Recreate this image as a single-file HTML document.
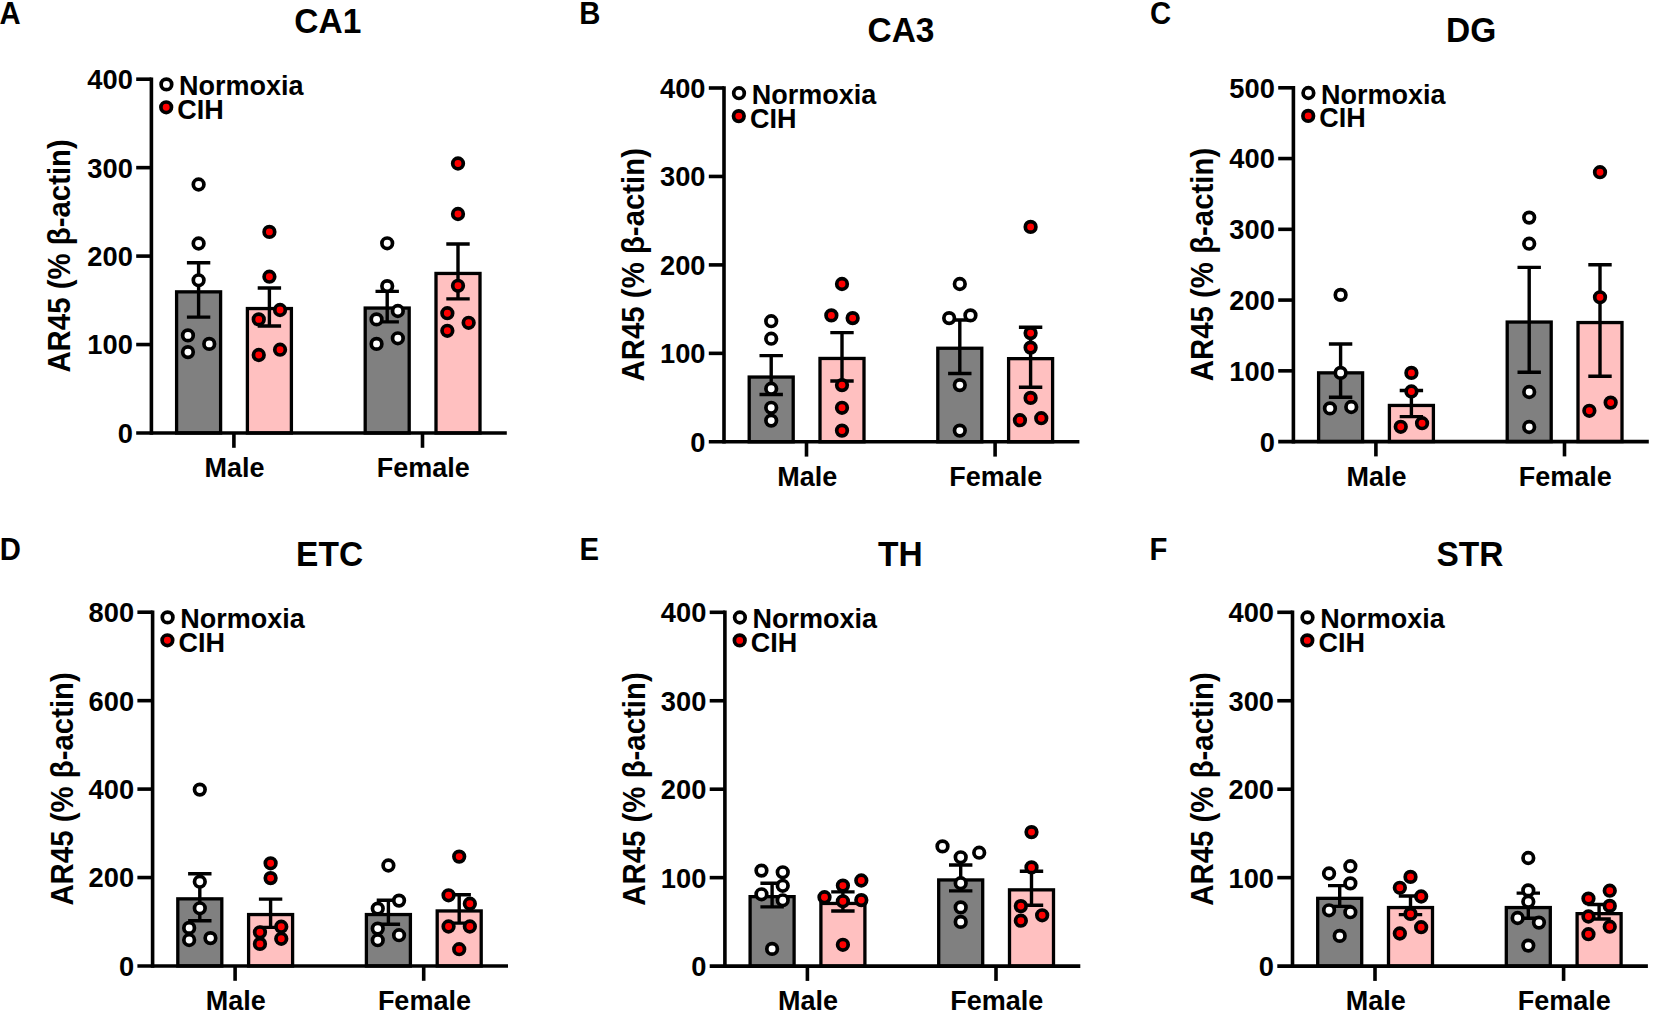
<!DOCTYPE html>
<html lang="en"><head><meta charset="utf-8"><title>AR45 expression by region</title>
<style>html,body{margin:0;padding:0;background:#fff}svg{display:block}text{font-family:"Liberation Sans", Arial, sans-serif;font-weight:bold;fill:#000}.t{font-size:27px}.tk{font-size:27.3px}.yl{font-size:29.4px}.ti{font-size:33.5px}.pl{font-size:29.3px}.ax{stroke:#000;stroke-width:3.6;fill:none}.er{stroke:#000;stroke-width:3.4;fill:none}.bg{fill:#808080;stroke:#000;stroke-width:3.3}.bp{fill:#ffc0c0;stroke:#000;stroke-width:3.3}.dn{fill:#fff;stroke:#000;stroke-width:3.7}.dc{fill:#ff0000;stroke:#000;stroke-width:3.7}</style></head><body>
<svg width="1654" height="1015" viewBox="0 0 1654 1015">
<rect width="1654" height="1015" fill="#fff"/>
<g id="panel-A">
<text class="pl" transform="translate(-0.6 24.2) scale(1 1.045)">A</text>
<text class="ti" transform="translate(327.8 33) scale(1 1.045)" text-anchor="middle">CA1</text>
<text class="yl" transform="translate(69.7 255.9) rotate(-90) scale(1 1.045)" text-anchor="middle">AR45 (% β-actin)</text>
<rect class="bg" x="176.6" y="291.85" width="44" height="141.15"/>
<rect class="bp" x="247.4" y="308.55" width="44" height="124.45"/>
<rect class="bg" x="365.2" y="308.05" width="44" height="124.95"/>
<rect class="bp" x="436" y="273.45" width="44" height="159.55"/>
<path class="ax" d="M151.4 77.4 V434.8"/>
<path class="ax" d="M136.2 433 H506.8"/>
<text class="tk" transform="translate(132.9 442.9) scale(1 1.045)" text-anchor="end">0</text>
<path class="ax" d="M136.2 344.55 H151.4"/>
<text class="tk" transform="translate(132.9 354.45) scale(1 1.045)" text-anchor="end">100</text>
<path class="ax" d="M136.2 256.1 H151.4"/>
<text class="tk" transform="translate(132.9 266) scale(1 1.045)" text-anchor="end">200</text>
<path class="ax" d="M136.2 167.65 H151.4"/>
<text class="tk" transform="translate(132.9 177.55) scale(1 1.045)" text-anchor="end">300</text>
<path class="ax" d="M136.2 79.2 H151.4"/>
<text class="tk" transform="translate(132.9 89.1) scale(1 1.045)" text-anchor="end">400</text>
<path class="ax" d="M233.9 433 V447.8"/>
<path class="ax" d="M422.5 433 V447.8"/>
<text class="t" transform="translate(234.6 476.9) scale(1 1.045)" text-anchor="middle">Male</text>
<text class="t" transform="translate(423.2 476.9) scale(1 1.045)" text-anchor="middle">Female</text>
<path class="er" d="M186.9 262.7 H210.3 M186.9 317.1 H210.3 M198.6 262.7 V317.1"/>
<path class="er" d="M257.7 288 H281.1 M257.7 326 H281.1 M269.4 288 V326"/>
<path class="er" d="M375.5 291.4 H398.9 M375.5 321.9 H398.9 M387.2 291.4 V321.9"/>
<path class="er" d="M446.3 244 H469.7 M446.3 298.9 H469.7 M458 244 V298.9"/>
<circle class="dn" cx="198.6" cy="184.5" r="5.3"/>
<circle class="dn" cx="198.6" cy="243.5" r="5.3"/>
<circle class="dn" cx="198.6" cy="280.3" r="5.3"/>
<circle class="dn" cx="187.95" cy="335.4" r="5.3"/>
<circle class="dn" cx="209.25" cy="343.9" r="5.3"/>
<circle class="dn" cx="187.95" cy="352.1" r="5.3"/>
<circle class="dc" cx="269.4" cy="231.9" r="5.3"/>
<circle class="dc" cx="269.4" cy="276.7" r="5.3"/>
<circle class="dc" cx="280.05" cy="310" r="5.3"/>
<circle class="dc" cx="258.75" cy="319.4" r="5.3"/>
<circle class="dc" cx="280.05" cy="349.7" r="5.3"/>
<circle class="dc" cx="258.75" cy="355" r="5.3"/>
<circle class="dn" cx="387.2" cy="243.3" r="5.3"/>
<circle class="dn" cx="387.2" cy="286.1" r="5.3"/>
<circle class="dn" cx="397.85" cy="311" r="5.3"/>
<circle class="dn" cx="376.55" cy="319.4" r="5.3"/>
<circle class="dn" cx="397.85" cy="338.3" r="5.3"/>
<circle class="dn" cx="376.55" cy="343.9" r="5.3"/>
<circle class="dc" cx="458" cy="163.5" r="5.3"/>
<circle class="dc" cx="458" cy="214" r="5.3"/>
<circle class="dc" cx="458" cy="285.8" r="5.3"/>
<circle class="dc" cx="447.35" cy="313.2" r="5.3"/>
<circle class="dc" cx="468.65" cy="322.8" r="5.3"/>
<circle class="dc" cx="447.35" cy="330.8" r="5.3"/>
<circle class="dn" cx="166.4" cy="84.4" r="5.3"/>
<circle class="dc" cx="166.2" cy="107.3" r="5.3"/>
<text class="t" transform="translate(179.1 95.3) scale(1 1.045)">Normoxia</text>
<text class="t" transform="translate(177.3 118.8) scale(1 1.045)">CIH</text>
</g>
<g id="panel-B">
<text class="pl" transform="translate(579.3 24.2) scale(1 1.045)">B</text>
<text class="ti" transform="translate(901 41.8) scale(1 1.045)" text-anchor="middle">CA3</text>
<text class="yl" transform="translate(644 264.7) rotate(-90) scale(1 1.045)" text-anchor="middle">AR45 (% β-actin)</text>
<rect class="bg" x="749.2" y="377.05" width="44" height="64.75"/>
<rect class="bp" x="820" y="358.45" width="44" height="83.35"/>
<rect class="bg" x="937.8" y="348.25" width="44" height="93.55"/>
<rect class="bp" x="1008.6" y="358.65" width="44" height="83.15"/>
<path class="ax" d="M724 86.2 V443.6"/>
<path class="ax" d="M708.8 441.8 H1079.4"/>
<text class="tk" transform="translate(705.5 451.7) scale(1 1.045)" text-anchor="end">0</text>
<path class="ax" d="M708.8 353.35 H724"/>
<text class="tk" transform="translate(705.5 363.25) scale(1 1.045)" text-anchor="end">100</text>
<path class="ax" d="M708.8 264.9 H724"/>
<text class="tk" transform="translate(705.5 274.8) scale(1 1.045)" text-anchor="end">200</text>
<path class="ax" d="M708.8 176.45 H724"/>
<text class="tk" transform="translate(705.5 186.35) scale(1 1.045)" text-anchor="end">300</text>
<path class="ax" d="M708.8 88 H724"/>
<text class="tk" transform="translate(705.5 97.9) scale(1 1.045)" text-anchor="end">400</text>
<path class="ax" d="M806.5 441.8 V456.6"/>
<path class="ax" d="M995.1 441.8 V456.6"/>
<text class="t" transform="translate(807.2 485.7) scale(1 1.045)" text-anchor="middle">Male</text>
<text class="t" transform="translate(995.8 485.7) scale(1 1.045)" text-anchor="middle">Female</text>
<path class="er" d="M759.5 355.6 H782.9 M759.5 394.5 H782.9 M771.2 355.6 V394.5"/>
<path class="er" d="M830.3 332.6 H853.7 M830.3 381 H853.7 M842 332.6 V381"/>
<path class="er" d="M948.1 320 H971.5 M948.1 373.5 H971.5 M959.8 320 V373.5"/>
<path class="er" d="M1018.9 327.3 H1042.3 M1018.9 387.3 H1042.3 M1030.6 327.3 V387.3"/>
<circle class="dn" cx="771.2" cy="321.2" r="5.3"/>
<circle class="dn" cx="771.2" cy="338.7" r="5.3"/>
<circle class="dn" cx="771.2" cy="388.7" r="5.3"/>
<circle class="dn" cx="771.2" cy="407.8" r="5.3"/>
<circle class="dn" cx="771.2" cy="420.6" r="5.3"/>
<circle class="dc" cx="842" cy="284" r="5.3"/>
<circle class="dc" cx="831.35" cy="315.4" r="5.3"/>
<circle class="dc" cx="852.65" cy="318.1" r="5.3"/>
<circle class="dc" cx="842" cy="385.1" r="5.3"/>
<circle class="dc" cx="842" cy="407.8" r="5.3"/>
<circle class="dc" cx="842" cy="430.6" r="5.3"/>
<circle class="dn" cx="959.8" cy="284" r="5.3"/>
<circle class="dn" cx="949.15" cy="318.1" r="5.3"/>
<circle class="dn" cx="970.45" cy="315.4" r="5.3"/>
<circle class="dn" cx="959.8" cy="385.1" r="5.3"/>
<circle class="dn" cx="959.8" cy="430.6" r="5.3"/>
<circle class="dc" cx="1030.6" cy="226.9" r="5.3"/>
<circle class="dc" cx="1030.6" cy="333.1" r="5.3"/>
<circle class="dc" cx="1030.6" cy="347.6" r="5.3"/>
<circle class="dc" cx="1030.6" cy="397.9" r="5.3"/>
<circle class="dc" cx="1019.95" cy="420.2" r="5.3"/>
<circle class="dc" cx="1041.25" cy="418.2" r="5.3"/>
<circle class="dn" cx="739" cy="93.2" r="5.3"/>
<circle class="dc" cx="738.8" cy="116.1" r="5.3"/>
<text class="t" transform="translate(751.7 104.1) scale(1 1.045)">Normoxia</text>
<text class="t" transform="translate(749.9 127.6) scale(1 1.045)">CIH</text>
</g>
<g id="panel-C">
<text class="pl" transform="translate(1149.9 24.2) scale(1 1.045)">C</text>
<text class="ti" transform="translate(1471.2 41.6) scale(1 1.045)" text-anchor="middle">DG</text>
<text class="yl" transform="translate(1213.4 264.5) rotate(-90) scale(1 1.045)" text-anchor="middle">AR45 (% β-actin)</text>
<rect class="bg" x="1318.6" y="372.85" width="44" height="68.75"/>
<rect class="bp" x="1389.4" y="405.45" width="44" height="36.15"/>
<rect class="bg" x="1507.2" y="322.05" width="44" height="119.55"/>
<rect class="bp" x="1578" y="322.55" width="44" height="119.05"/>
<path class="ax" d="M1293.4 86 V443.4"/>
<path class="ax" d="M1278.2 441.6 H1648.8"/>
<text class="tk" transform="translate(1274.9 451.5) scale(1 1.045)" text-anchor="end">0</text>
<path class="ax" d="M1278.2 370.84 H1293.4"/>
<text class="tk" transform="translate(1274.9 380.74) scale(1 1.045)" text-anchor="end">100</text>
<path class="ax" d="M1278.2 300.08 H1293.4"/>
<text class="tk" transform="translate(1274.9 309.98) scale(1 1.045)" text-anchor="end">200</text>
<path class="ax" d="M1278.2 229.32 H1293.4"/>
<text class="tk" transform="translate(1274.9 239.22) scale(1 1.045)" text-anchor="end">300</text>
<path class="ax" d="M1278.2 158.56 H1293.4"/>
<text class="tk" transform="translate(1274.9 168.46) scale(1 1.045)" text-anchor="end">400</text>
<path class="ax" d="M1278.2 87.8 H1293.4"/>
<text class="tk" transform="translate(1274.9 97.7) scale(1 1.045)" text-anchor="end">500</text>
<path class="ax" d="M1375.9 441.6 V456.4"/>
<path class="ax" d="M1564.5 441.6 V456.4"/>
<text class="t" transform="translate(1376.6 485.5) scale(1 1.045)" text-anchor="middle">Male</text>
<text class="t" transform="translate(1565.2 485.5) scale(1 1.045)" text-anchor="middle">Female</text>
<path class="er" d="M1328.9 344 H1352.3 M1328.9 397.3 H1352.3 M1340.6 344 V397.3"/>
<path class="er" d="M1399.7 390.5 H1423.1 M1399.7 416.6 H1423.1 M1411.4 390.5 V416.6"/>
<path class="er" d="M1517.5 267.4 H1540.9 M1517.5 372.2 H1540.9 M1529.2 267.4 V372.2"/>
<path class="er" d="M1588.3 264.8 H1611.7 M1588.3 376.3 H1611.7 M1600 264.8 V376.3"/>
<circle class="dn" cx="1340.6" cy="294.9" r="5.3"/>
<circle class="dn" cx="1340.6" cy="372.9" r="5.3"/>
<circle class="dn" cx="1329.95" cy="408.4" r="5.3"/>
<circle class="dn" cx="1351.25" cy="407" r="5.3"/>
<circle class="dc" cx="1411.4" cy="372.9" r="5.3"/>
<circle class="dc" cx="1411.4" cy="391.5" r="5.3"/>
<circle class="dc" cx="1400.75" cy="426.8" r="5.3"/>
<circle class="dc" cx="1422.05" cy="423.2" r="5.3"/>
<circle class="dn" cx="1529.2" cy="217.6" r="5.3"/>
<circle class="dn" cx="1529.2" cy="243.7" r="5.3"/>
<circle class="dn" cx="1529.2" cy="392" r="5.3"/>
<circle class="dn" cx="1529.2" cy="427" r="5.3"/>
<circle class="dc" cx="1600" cy="172.2" r="5.3"/>
<circle class="dc" cx="1600" cy="297.3" r="5.3"/>
<circle class="dc" cx="1589.35" cy="410.8" r="5.3"/>
<circle class="dc" cx="1610.65" cy="402.6" r="5.3"/>
<circle class="dn" cx="1308.4" cy="93" r="5.3"/>
<circle class="dc" cx="1308.2" cy="115.9" r="5.3"/>
<text class="t" transform="translate(1321.1 103.9) scale(1 1.045)">Normoxia</text>
<text class="t" transform="translate(1319.3 127.4) scale(1 1.045)">CIH</text>
</g>
<g id="panel-D">
<text class="pl" transform="translate(-0.3 559.8) scale(1 1.045)">D</text>
<text class="ti" transform="translate(329.6 566.1) scale(1 1.045)" text-anchor="middle">ETC</text>
<text class="yl" transform="translate(72.6 788.9) rotate(-90) scale(1 1.045)" text-anchor="middle">AR45 (% β-actin)</text>
<rect class="bg" x="177.8" y="898.85" width="44" height="67.15"/>
<rect class="bp" x="248.6" y="914.55" width="44" height="51.45"/>
<rect class="bg" x="366.4" y="914.55" width="44" height="51.45"/>
<rect class="bp" x="437.2" y="910.95" width="44" height="55.05"/>
<path class="ax" d="M152.6 610.4 V967.8"/>
<path class="ax" d="M137.4 966 H508"/>
<text class="tk" transform="translate(134.1 975.9) scale(1 1.045)" text-anchor="end">0</text>
<path class="ax" d="M137.4 877.55 H152.6"/>
<text class="tk" transform="translate(134.1 887.45) scale(1 1.045)" text-anchor="end">200</text>
<path class="ax" d="M137.4 789.1 H152.6"/>
<text class="tk" transform="translate(134.1 799) scale(1 1.045)" text-anchor="end">400</text>
<path class="ax" d="M137.4 700.65 H152.6"/>
<text class="tk" transform="translate(134.1 710.55) scale(1 1.045)" text-anchor="end">600</text>
<path class="ax" d="M137.4 612.2 H152.6"/>
<text class="tk" transform="translate(134.1 622.1) scale(1 1.045)" text-anchor="end">800</text>
<path class="ax" d="M235.1 966 V980.8"/>
<path class="ax" d="M423.7 966 V980.8"/>
<text class="t" transform="translate(235.8 1009.9) scale(1 1.045)" text-anchor="middle">Male</text>
<text class="t" transform="translate(424.4 1009.9) scale(1 1.045)" text-anchor="middle">Female</text>
<path class="er" d="M188.1 873.7 H211.5 M188.1 920.7 H211.5 M199.8 873.7 V920.7"/>
<path class="er" d="M258.9 899.1 H282.3 M258.9 927.4 H282.3 M270.6 899.1 V927.4"/>
<path class="er" d="M376.7 900.3 H400.1 M376.7 924.3 H400.1 M388.4 900.3 V924.3"/>
<path class="er" d="M447.5 894.8 H470.9 M447.5 923.1 H470.9 M459.2 894.8 V923.1"/>
<circle class="dn" cx="199.8" cy="789.6" r="5.3"/>
<circle class="dn" cx="199.8" cy="881.7" r="5.3"/>
<circle class="dn" cx="199.8" cy="908.3" r="5.3"/>
<circle class="dn" cx="189.15" cy="927.9" r="5.3"/>
<circle class="dn" cx="189.15" cy="940" r="5.3"/>
<circle class="dn" cx="210.45" cy="938.1" r="5.3"/>
<circle class="dc" cx="270.6" cy="863.3" r="5.3"/>
<circle class="dc" cx="270.6" cy="878.1" r="5.3"/>
<circle class="dc" cx="259.95" cy="932.3" r="5.3"/>
<circle class="dc" cx="281.25" cy="926.7" r="5.3"/>
<circle class="dc" cx="281.25" cy="938.8" r="5.3"/>
<circle class="dc" cx="259.95" cy="943.9" r="5.3"/>
<circle class="dn" cx="388.4" cy="865.5" r="5.3"/>
<circle class="dn" cx="399.05" cy="900.6" r="5.3"/>
<circle class="dn" cx="377.75" cy="908.6" r="5.3"/>
<circle class="dn" cx="377.75" cy="928.6" r="5.3"/>
<circle class="dn" cx="399.05" cy="935.2" r="5.3"/>
<circle class="dn" cx="377.75" cy="940.2" r="5.3"/>
<circle class="dc" cx="459.2" cy="856.6" r="5.3"/>
<circle class="dc" cx="448.55" cy="895.3" r="5.3"/>
<circle class="dc" cx="469.85" cy="903.7" r="5.3"/>
<circle class="dc" cx="448.55" cy="926.5" r="5.3"/>
<circle class="dc" cx="469.85" cy="926.5" r="5.3"/>
<circle class="dc" cx="459.2" cy="949.2" r="5.3"/>
<circle class="dn" cx="167.6" cy="617.4" r="5.3"/>
<circle class="dc" cx="167.4" cy="640.3" r="5.3"/>
<text class="t" transform="translate(180.3 628.3) scale(1 1.045)">Normoxia</text>
<text class="t" transform="translate(178.5 651.8) scale(1 1.045)">CIH</text>
</g>
<g id="panel-E">
<text class="pl" transform="translate(579.5 559.8) scale(1 1.045)">E</text>
<text class="ti" transform="translate(900.3 566.2) scale(1 1.045)" text-anchor="middle">TH</text>
<text class="yl" transform="translate(644.9 789) rotate(-90) scale(1 1.045)" text-anchor="middle">AR45 (% β-actin)</text>
<rect class="bg" x="750.1" y="896.65" width="44" height="69.45"/>
<rect class="bp" x="820.9" y="903.45" width="44" height="62.65"/>
<rect class="bg" x="938.7" y="879.95" width="44" height="86.15"/>
<rect class="bp" x="1009.5" y="889.85" width="44" height="76.25"/>
<path class="ax" d="M724.9 610.5 V967.9"/>
<path class="ax" d="M709.7 966.1 H1080.3"/>
<text class="tk" transform="translate(706.4 976) scale(1 1.045)" text-anchor="end">0</text>
<path class="ax" d="M709.7 877.65 H724.9"/>
<text class="tk" transform="translate(706.4 887.55) scale(1 1.045)" text-anchor="end">100</text>
<path class="ax" d="M709.7 789.2 H724.9"/>
<text class="tk" transform="translate(706.4 799.1) scale(1 1.045)" text-anchor="end">200</text>
<path class="ax" d="M709.7 700.75 H724.9"/>
<text class="tk" transform="translate(706.4 710.65) scale(1 1.045)" text-anchor="end">300</text>
<path class="ax" d="M709.7 612.3 H724.9"/>
<text class="tk" transform="translate(706.4 622.2) scale(1 1.045)" text-anchor="end">400</text>
<path class="ax" d="M807.4 966.1 V980.9"/>
<path class="ax" d="M996 966.1 V980.9"/>
<text class="t" transform="translate(808.1 1010) scale(1 1.045)" text-anchor="middle">Male</text>
<text class="t" transform="translate(996.7 1010) scale(1 1.045)" text-anchor="middle">Female</text>
<path class="er" d="M760.4 883.2 H783.8 M760.4 906.9 H783.8 M772.1 883.2 V906.9"/>
<path class="er" d="M831.2 891.9 H854.6 M831.2 911 H854.6 M842.9 891.9 V911"/>
<path class="er" d="M949 865 H972.4 M949 890.9 H972.4 M960.7 865 V890.9"/>
<path class="er" d="M1019.8 871.3 H1043.2 M1019.8 905.2 H1043.2 M1031.5 871.3 V905.2"/>
<circle class="dn" cx="761.45" cy="870.6" r="5.3"/>
<circle class="dn" cx="782.75" cy="872.3" r="5.3"/>
<circle class="dn" cx="782.75" cy="885.8" r="5.3"/>
<circle class="dn" cx="761.45" cy="894.3" r="5.3"/>
<circle class="dn" cx="782.75" cy="900.3" r="5.3"/>
<circle class="dn" cx="772.1" cy="948.9" r="5.3"/>
<circle class="dc" cx="861.3" cy="880.5" r="5.3"/>
<circle class="dc" cx="842.9" cy="885.6" r="5.3"/>
<circle class="dc" cx="824.5" cy="897.2" r="5.3"/>
<circle class="dc" cx="842.9" cy="901.3" r="5.3"/>
<circle class="dc" cx="861.3" cy="900.1" r="5.3"/>
<circle class="dc" cx="842.9" cy="944.8" r="5.3"/>
<circle class="dn" cx="942.5" cy="846.4" r="5.3"/>
<circle class="dn" cx="979.2" cy="852.7" r="5.3"/>
<circle class="dn" cx="960.7" cy="857.3" r="5.3"/>
<circle class="dn" cx="960.7" cy="883.2" r="5.3"/>
<circle class="dn" cx="960.7" cy="907.4" r="5.3"/>
<circle class="dn" cx="960.7" cy="921.9" r="5.3"/>
<circle class="dc" cx="1031.5" cy="832.1" r="5.3"/>
<circle class="dc" cx="1031.5" cy="867.4" r="5.3"/>
<circle class="dc" cx="1020.85" cy="906.1" r="5.3"/>
<circle class="dc" cx="1042.15" cy="915.3" r="5.3"/>
<circle class="dc" cx="1020.85" cy="920.7" r="5.3"/>
<circle class="dn" cx="739.9" cy="617.5" r="5.3"/>
<circle class="dc" cx="739.7" cy="640.4" r="5.3"/>
<text class="t" transform="translate(752.6 628.4) scale(1 1.045)">Normoxia</text>
<text class="t" transform="translate(750.8 651.9) scale(1 1.045)">CIH</text>
</g>
<g id="panel-F">
<text class="pl" transform="translate(1149.5 559.8) scale(1 1.045)">F</text>
<text class="ti" transform="translate(1470 566.2) scale(1 1.045)" text-anchor="middle">STR</text>
<text class="yl" transform="translate(1212.5 789) rotate(-90) scale(1 1.045)" text-anchor="middle">AR45 (% β-actin)</text>
<rect class="bg" x="1317.7" y="898.35" width="44" height="67.75"/>
<rect class="bp" x="1388.5" y="907.55" width="44" height="58.55"/>
<rect class="bg" x="1506.3" y="907.55" width="44" height="58.55"/>
<rect class="bp" x="1577.1" y="913.65" width="44" height="52.45"/>
<path class="ax" d="M1292.5 610.5 V967.9"/>
<path class="ax" d="M1277.3 966.1 H1647.9"/>
<text class="tk" transform="translate(1274 976) scale(1 1.045)" text-anchor="end">0</text>
<path class="ax" d="M1277.3 877.65 H1292.5"/>
<text class="tk" transform="translate(1274 887.55) scale(1 1.045)" text-anchor="end">100</text>
<path class="ax" d="M1277.3 789.2 H1292.5"/>
<text class="tk" transform="translate(1274 799.1) scale(1 1.045)" text-anchor="end">200</text>
<path class="ax" d="M1277.3 700.75 H1292.5"/>
<text class="tk" transform="translate(1274 710.65) scale(1 1.045)" text-anchor="end">300</text>
<path class="ax" d="M1277.3 612.3 H1292.5"/>
<text class="tk" transform="translate(1274 622.2) scale(1 1.045)" text-anchor="end">400</text>
<path class="ax" d="M1375 966.1 V980.9"/>
<path class="ax" d="M1563.6 966.1 V980.9"/>
<text class="t" transform="translate(1375.7 1010) scale(1 1.045)" text-anchor="middle">Male</text>
<text class="t" transform="translate(1564.3 1010) scale(1 1.045)" text-anchor="middle">Female</text>
<path class="er" d="M1328 885.6 H1351.4 M1328 906.4 H1351.4 M1339.7 885.6 V906.4"/>
<path class="er" d="M1398.8 896 H1422.2 M1398.8 914.6 H1422.2 M1410.5 896 V914.6"/>
<path class="er" d="M1516.6 893.1 H1540 M1516.6 918.2 H1540 M1528.3 893.1 V918.2"/>
<path class="er" d="M1587.4 904.5 H1610.8 M1587.4 919 H1610.8 M1599.1 904.5 V919"/>
<circle class="dn" cx="1350.35" cy="866.2" r="5.3"/>
<circle class="dn" cx="1329.05" cy="873.5" r="5.3"/>
<circle class="dn" cx="1350.35" cy="883.4" r="5.3"/>
<circle class="dn" cx="1329.05" cy="910.3" r="5.3"/>
<circle class="dn" cx="1350.35" cy="912.2" r="5.3"/>
<circle class="dn" cx="1339.7" cy="935.9" r="5.3"/>
<circle class="dc" cx="1410.5" cy="876.9" r="5.3"/>
<circle class="dc" cx="1399.85" cy="887.8" r="5.3"/>
<circle class="dc" cx="1421.15" cy="896.5" r="5.3"/>
<circle class="dc" cx="1410.5" cy="913.9" r="5.3"/>
<circle class="dc" cx="1421.15" cy="927.2" r="5.3"/>
<circle class="dc" cx="1399.85" cy="933.5" r="5.3"/>
<circle class="dn" cx="1528.3" cy="858" r="5.3"/>
<circle class="dn" cx="1528.3" cy="890.4" r="5.3"/>
<circle class="dn" cx="1528.3" cy="901.8" r="5.3"/>
<circle class="dn" cx="1517.65" cy="918" r="5.3"/>
<circle class="dn" cx="1538.95" cy="922.6" r="5.3"/>
<circle class="dn" cx="1528.3" cy="945.6" r="5.3"/>
<circle class="dc" cx="1609.75" cy="890.7" r="5.3"/>
<circle class="dc" cx="1588.45" cy="898.6" r="5.3"/>
<circle class="dc" cx="1609.75" cy="905.9" r="5.3"/>
<circle class="dc" cx="1588.45" cy="916.5" r="5.3"/>
<circle class="dc" cx="1609.75" cy="926.7" r="5.3"/>
<circle class="dc" cx="1588.45" cy="934.2" r="5.3"/>
<circle class="dn" cx="1307.5" cy="617.5" r="5.3"/>
<circle class="dc" cx="1307.3" cy="640.4" r="5.3"/>
<text class="t" transform="translate(1320.2 628.4) scale(1 1.045)">Normoxia</text>
<text class="t" transform="translate(1318.4 651.9) scale(1 1.045)">CIH</text>
</g>
</svg></body></html>
